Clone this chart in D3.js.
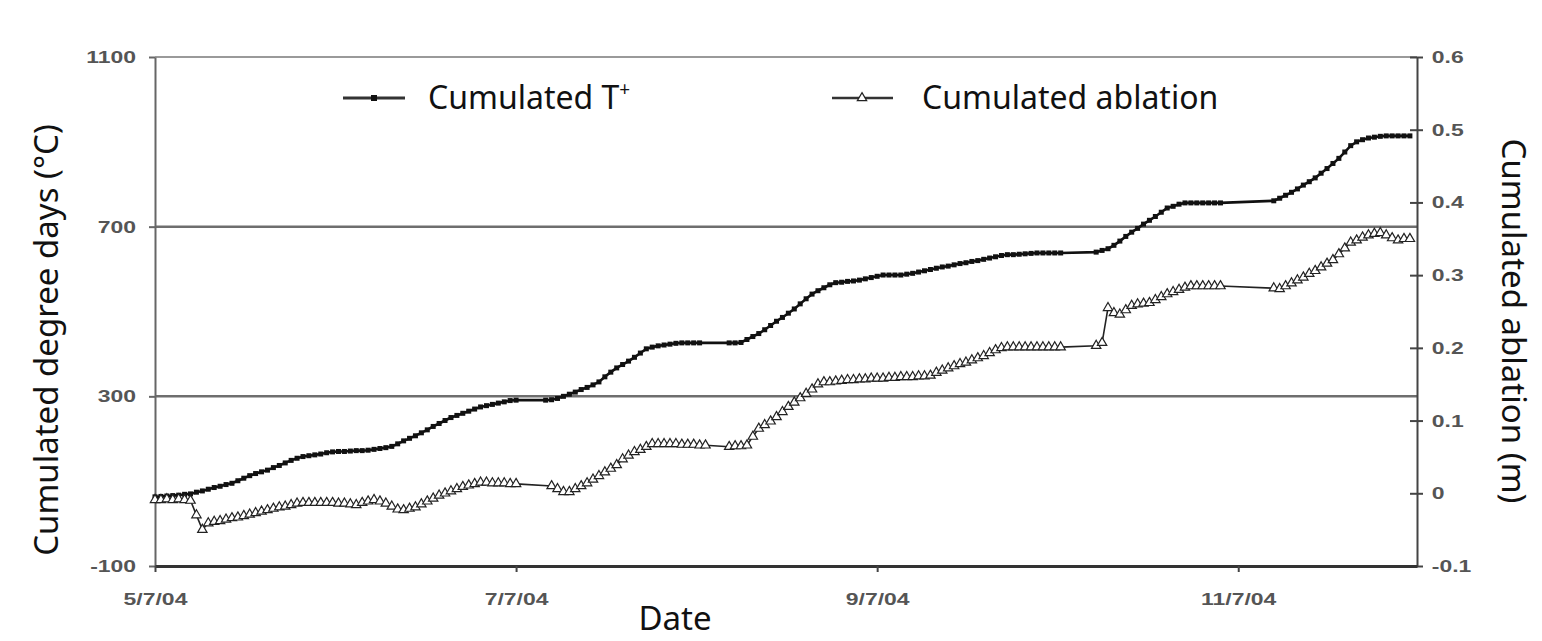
<!DOCTYPE html>
<html>
<head>
<meta charset="utf-8">
<script src="https://cdn.jsdelivr.net/npm/d3@7"></script>
<style>
  html, body { margin: 0; padding: 0; background: #fff; }
  svg { display: block; }
  .tick-label { font-family: "Liberation Sans", Arial, sans-serif; font-size: 17px; font-weight: bold; fill: #555; }
  .title { font-family: "Noto Sans", "Open Sans", sans-serif; font-size: 33px; fill: #111; }
  .legend { font-family: "Noto Sans", "Open Sans", sans-serif; font-size: 32px; fill: #111; }
</style>
</head>
<body>
<svg id="chart" width="1542" height="641"></svg>
<script>
// Daily readings, index = days since 5/7/04; null = no reading that day
const degreeDays = [
  63, 64, 65, 66, 67, 69, 70, 74, 77, 81,
  85, 88, 92, 95, 101, 107, 113, 118, 122, 126,
  132, 137, 143, 149, 154, 158, 160, 162, 164, 167,
  169, 170, 170, 171, 172, 172, 173, 175, 177, 179,
  182, 188, 195, 201, 207, 214, 221, 229, 236, 243,
  250, 255, 260, 265, 270, 275, 278, 281, 284, 287,
  290, 291, null, null, null, null, 291, 292, 295, 300,
  305, 310, 316, 321, 327, 334, 346, 357, 367, 375,
  383, 392, 402, 412, 416, 419, 421, 423, 425, 426,
  426, 426, 426, null, null, null, null, 426, 426, 427,
  434, 441, 448, 457, 467, 477, 486, 496, 506, 518,
  530, 541, 549, 556, 563, 568, 569, 571, 572, 574,
  577, 580, 583, 586, 586, 586, 586, 588, 590, 593,
  596, 599, 602, 605, 607, 610, 613, 615, 618, 620,
  623, 626, 629, 632, 634, 634, 635, 636, 637, 638,
  638, 638, 638, 638, null, null, null, null, null, 640,
  644, 648, 656, 666, 677, 687, 696, 706, 715, 724,
  734, 744, 748, 753, 756, 756, 756, 756, 756, 756,
  756, null, null, null, null, null, null, null, null, 761,
  767, 774, 781, 789, 798, 806, 815, 826, 837, 849,
  861, 876, 891, 900, 905, 909, 911, 913, 914, 914,
  914, 914, 914
];

const ablation = [
  -0.009, -0.009, -0.008, -0.009, -0.008, -0.009, -0.010, -0.030, -0.050, -0.041,
  -0.039, -0.038, -0.036, -0.034, -0.033, -0.031, -0.029, -0.027, -0.025, -0.023,
  -0.021, -0.019, -0.018, -0.016, -0.014, -0.013, -0.013, -0.013, -0.013, -0.013,
  -0.013, -0.014, -0.014, -0.015, -0.016, -0.013, -0.011, -0.009, -0.011, -0.014,
  -0.018, -0.022, -0.023, -0.021, -0.019, -0.015, -0.011, -0.007, -0.003, 0.000,
  0.003, 0.006, 0.009, 0.011, 0.013, 0.015, 0.015, 0.014, 0.014, 0.014,
  0.013, 0.013, null, null, null, null, null, 0.010, 0.006, 0.002,
  0.002, 0.006, 0.010, 0.014, 0.019, 0.024, 0.029, 0.034, 0.039, 0.047,
  0.052, 0.057, 0.060, 0.064, 0.068, 0.068, 0.068, 0.068, 0.068, 0.067,
  0.067, 0.067, 0.066, 0.066, null, null, null, 0.064, 0.065, 0.065,
  0.066, 0.078, 0.089, 0.094, 0.099, 0.105, 0.112, 0.119, 0.125, 0.131,
  0.137, 0.143, 0.150, 0.153, 0.153, 0.154, 0.155, 0.156, 0.156, 0.157,
  0.157, 0.158, 0.158, 0.158, 0.159, 0.159, 0.160, 0.160, 0.160, 0.161,
  0.161, 0.162, 0.166, 0.169, 0.172, 0.175, 0.178, 0.180, 0.183, 0.186,
  0.189, 0.193, 0.197, 0.200, 0.201, 0.201, 0.201, 0.201, 0.201, 0.201,
  0.201, 0.201, 0.201, 0.201, null, null, null, null, null, 0.203,
  0.207, 0.255, 0.248, 0.246, 0.252, 0.258, 0.260, 0.261, 0.262, 0.266,
  0.270, 0.274, 0.277, 0.280, 0.283, 0.285, 0.285, 0.285, 0.285, 0.285,
  0.285, null, null, null, null, null, null, null, null, 0.282,
  0.281, 0.285, 0.289, 0.293, 0.297, 0.302, 0.306, 0.311, 0.316, 0.321,
  0.329, 0.337, 0.345, 0.348, 0.352, 0.355, 0.357, 0.358, 0.355, 0.351,
  0.348, 0.350, 0.350
];

// Axis ticks
const dateTickDays = [0, 61, 122, 183];
const dateTickLabels = ["5/7/04", "7/7/04", "9/7/04", "11/7/04"];
const leftTicks = [1100, 700, 300, -100];
const gridValues = [700, 300];
const rightTicks = [-0.1, 0, 0.1, 0.2, 0.3, 0.4, 0.5, 0.6];
const seriesNames = ["Cumulated T", "Cumulated ablation"];

const svg = d3.select("#chart");
const plot = { left: 155, right: 1417, top: 57, bottom: 566 };

const x = d3.scaleLinear().domain([0, 213.2]).range([plot.left, plot.right]);
const yLeft = d3.scaleLinear().domain([-100, 1100]).range([plot.bottom, plot.top]);
const yRight = d3.scaleLinear().domain([-0.1, 0.6]).range([plot.bottom, plot.top]);

const tPoints = degreeDays.map((v, i) => ({ d: i, v })).filter(p => p.v !== null);
const aPoints = ablation.map((v, i) => ({ d: i, v })).filter(p => p.v !== null);

// plain hyphen for negative tick values
const fmtInt = d => String(d);
const fmtDec = d => d === 0 ? "0" : d.toFixed(1);

// gridlines and top border
svg.append("line")
  .attr("x1", plot.left).attr("x2", plot.right)
  .attr("y1", yLeft(1100)).attr("y2", yLeft(1100))
  .attr("stroke", "#9a9a9a").attr("stroke-width", 2);
svg.selectAll("line.grid").data(gridValues).join("line")
  .attr("class", "grid")
  .attr("x1", plot.left).attr("x2", plot.right)
  .attr("y1", d => yLeft(d)).attr("y2", d => yLeft(d))
  .attr("stroke", "#6e6e6e").attr("stroke-width", 2.5);

// left axis
const gL = svg.append("g").attr("transform", `translate(${plot.left},0)`)
  .call(d3.axisLeft(yLeft).tickValues(leftTicks).tickSizeInner(6).tickSizeOuter(0).tickPadding(8).tickFormat(fmtInt));
gL.select(".domain").attr("stroke", "#666").attr("stroke-width", 2);
gL.selectAll(".tick line").attr("stroke", "#666").attr("stroke-width", 2);
gL.selectAll(".tick text").attr("class", "tick-label").attr("transform", "scale(1.35,1)");

// right axis
const gR = svg.append("g").attr("transform", `translate(${plot.right},0)`)
  .call(d3.axisRight(yRight).tickValues(rightTicks).tickSizeInner(6).tickSizeOuter(0).tickPadding(5).tickFormat(fmtDec));
gR.select(".domain").attr("stroke", "#444").attr("stroke-width", 2);
gR.selectAll(".tick line").attr("x1", -7).attr("x2", 6).attr("stroke", "#444").attr("stroke-width", 2);
gR.selectAll(".tick text").attr("class", "tick-label").attr("transform", "scale(1.35,1)");

// bottom axis
const gB = svg.append("g").attr("transform", `translate(0,${plot.bottom})`)
  .call(d3.axisBottom(x).tickValues(dateTickDays).tickSizeInner(6).tickSizeOuter(0).tickPadding(21)
    .tickFormat((d, i) => dateTickLabels[i]));
gB.select(".domain").attr("stroke", "#333").attr("stroke-width", 3);
gB.selectAll(".tick line").attr("stroke", "#444").attr("stroke-width", 2);
gB.selectAll(".tick text").attr("class", "tick-label").attr("transform", "scale(1.35,1)");

// series lines
const tLine = d3.line().x(p => x(p.d)).y(p => yLeft(p.v));
const aLine = d3.line().x(p => x(p.d)).y(p => yRight(p.v));

svg.append("path").datum(tPoints).attr("d", tLine)
  .attr("fill", "none").attr("stroke", "#111").attr("stroke-width", 2.6);
svg.append("path").datum(aPoints).attr("d", aLine)
  .attr("fill", "none").attr("stroke", "#222").attr("stroke-width", 1.6);

// markers
const tri = d3.symbol(d3.symbolTriangle).size(38)();
svg.append("g").selectAll("rect").data(tPoints).join("rect")
  .attr("x", p => x(p.d) - 2.5).attr("y", p => yLeft(p.v) - 2.5)
  .attr("width", 5).attr("height", 5).attr("fill", "#111");
svg.append("g").selectAll("path").data(aPoints).join("path")
  .attr("d", tri)
  .attr("transform", p => `translate(${x(p.d)},${yRight(p.v)})`)
  .attr("fill", "#fff").attr("stroke", "#222").attr("stroke-width", 1.2);

// legend
const lg = svg.append("g");
lg.append("line").attr("x1", 343).attr("x2", 405).attr("y1", 98).attr("y2", 98)
  .attr("stroke", "#333").attr("stroke-width", 3);
lg.append("rect").attr("x", 371).attr("y", 95).attr("width", 6).attr("height", 6).attr("fill", "#111");
const t1 = lg.append("text").attr("class", "legend").attr("x", 428).attr("y", 109).text(seriesNames[0]);
t1.append("tspan").attr("font-size", 19).attr("dy", -13).text("+");

lg.append("line").attr("x1", 832).attr("x2", 893).attr("y1", 98).attr("y2", 98)
  .attr("stroke", "#333").attr("stroke-width", 2.5);
lg.append("path").attr("d", tri).attr("transform", "translate(862,98)")
  .attr("fill", "#fff").attr("stroke", "#222").attr("stroke-width", 1.2);
lg.append("text").attr("class", "legend").attr("x", 922).attr("y", 109).text(seriesNames[1]);

// axis titles
svg.append("text").attr("class", "title").attr("text-anchor", "middle")
  .attr("transform", "translate(58,340) rotate(-90)").text("Cumulated degree days (°C)");
svg.append("text").attr("class", "title").attr("text-anchor", "middle")
  .attr("transform", "translate(1502,321) rotate(90)").text("Cumulated ablation (m)");
svg.append("text").attr("class", "title").attr("text-anchor", "middle")
  .attr("x", 675).attr("y", 630).text("Date");
</script>
</body>
</html>
